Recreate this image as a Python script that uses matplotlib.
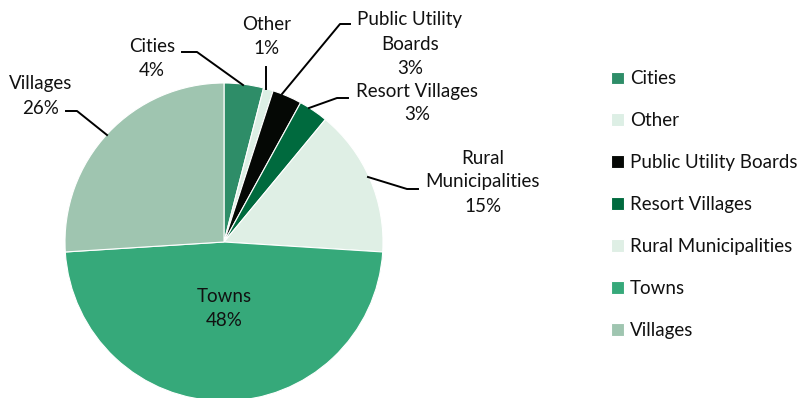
import matplotlib
matplotlib.use("Agg")
import matplotlib.pyplot as plt

plt.rcParams['font.family'] = ['Lato', 'DejaVu Sans']

categories = ['Cities', 'Other', 'Public Utility Boards', 'Resort Villages',
              'Rural Municipalities', 'Towns', 'Villages']
shares = [4, 1, 3, 3, 15, 48, 26]
colors = ['#2e8d68', '#ddefe5', '#050805', '#006a3e', '#dfefe5', '#36a97a', '#9fc5b0']

# label text, text anchor (px from top-left), leader line points (px)
label_text = ['Cities\n4%', 'Other\n1%', 'Public Utility\nBoards\n3%', 'Resort Villages\n3%',
              'Rural\nMunicipalities\n15%', 'Towns\n48%', 'Villages\n26%']
label_pos = [(152, 58), (267, 36), (410, 44), (417, 103), (483, 182), (224, 309), (41, 96)]
leaders = [
    [(182, 52), (197, 52), (243, 85)],
    [(266, 67), (266, 89)],
    [(282, 94), (340, 24), (350, 24)],
    [(309, 108), (337, 98), (348, 98)],
    [(368, 177), (407, 189), (418, 189)],
    None,
    [(66, 111), (77, 111), (107, 135)],
]

W, H = 803, 398
fig = plt.figure(figsize=(W / 100, H / 100), dpi=100)
ax = fig.add_axes([0, 0, 1, 1])

cx, cy, r = 224, 242, 159
wedges, _ = ax.pie(shares, colors=colors, startangle=90, counterclock=False,
                   center=(cx, H - cy), radius=r, frame=True,
                   wedgeprops=dict(edgecolor='white', linewidth=0.8))
ax.set_xlim(0, W)
ax.set_ylim(0, H)
ax.set_aspect('equal')
ax.axis('off')

fs = 13.5
for txt, (x, y), pts in zip(label_text, label_pos, leaders):
    ax.text(x, H - y, txt, ha='center', va='center', fontsize=fs,
            color='#111111', linespacing=1.5)
    if pts:
        ax.plot([p[0] for p in pts], [H - p[1] for p in pts], color='black', lw=1.4)

leg = fig.legend(wedges, categories, loc='upper left', bbox_to_anchor=(602 / W, 1 - 61 / H),
                 frameon=False, fontsize=fs, handlelength=0.65, handleheight=0.65,
                 handletextpad=0.35, labelspacing=1.33, borderpad=0)
for t in leg.get_texts():
    t.set_color('#111111')

fig.savefig('out.png', dpi=100)
